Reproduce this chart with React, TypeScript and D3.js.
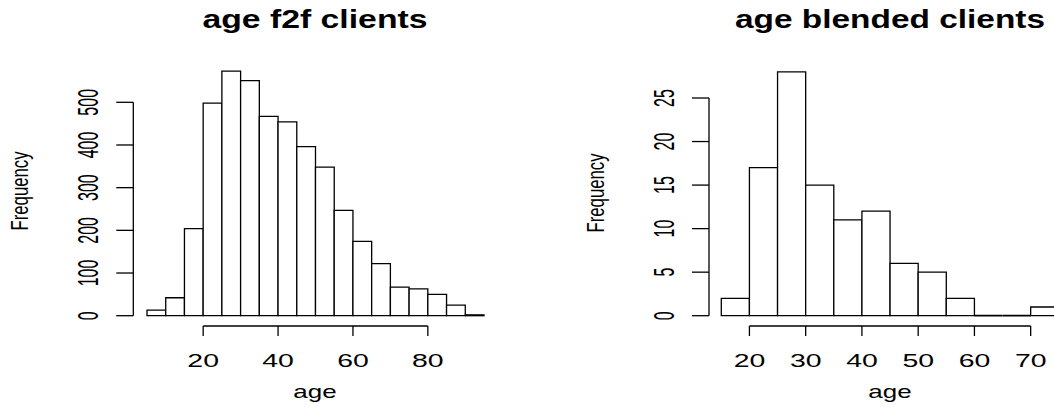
import React from "react";
import * as d3 from "d3";

// bins (5-year bins)
const f2fBreaks = [5, 10, 15, 20, 25, 30, 35, 40, 45, 50, 55, 60, 65, 70, 75, 80, 85, 90, 95];
const f2fCounts = [13, 42, 204, 498, 573, 551, 467, 454, 396, 348, 247, 174, 122, 67, 63, 50, 25, 2];
const f2fXTicks = [20, 40, 60, 80];
const f2fYTicks = [0, 100, 200, 300, 400, 500];

const blendedBreaks = [15, 20, 25, 30, 35, 40, 45, 50, 55, 60, 65, 70, 75];
const blendedCounts = [2, 17, 28, 15, 11, 12, 6, 5, 2, 0, 0, 1];
const blendedXTicks = [20, 30, 40, 50, 60, 70];
const blendedYTicks = [0, 5, 10, 15, 20, 25];

const FONT = "'Liberation Sans', Arial, Helvetica, sans-serif";

type HistProps = {
  title: string;
  titleLen: number;
  breaks: number[];
  counts: number[];
  xTicks: number[];
  yTicks: number[];
  xRange: [number, number];
  yRange: [number, number];
  axisX: number;
  axisY: number;
  centreX: number;
  ylabY: number;
};

function Histogram(p: HistProps) {
  const x = d3.scaleLinear().domain([p.breaks[0], p.breaks[p.breaks.length - 1]]).range(p.xRange);
  const y = d3.scaleLinear().domain([p.yTicks[0], p.yTicks[p.yTicks.length - 1]]).range(p.yRange);

  const bins = p.counts.map((c, i) => ({ x0: p.breaks[i], x1: p.breaks[i + 1], c }));
  const digitLen = 8.9; // rotated label length per character
  const tickDigit = 15.8; // horizontal label width per character

  // path instead of rect so empty bins still show as a flat line
  const barPath = (b: { x0: number; x1: number; c: number }) => {
    const path = d3.path();
    path.moveTo(x(b.x0), y(0));
    path.lineTo(x(b.x0), y(b.c));
    path.lineTo(x(b.x1), y(b.c));
    path.lineTo(x(b.x1), y(0));
    path.closePath();
    return path.toString();
  };

  return (
    <g fontFamily={FONT} fill="#000">
      {/* title */}
      <text x={p.centreX} y={28} textAnchor="middle" fontWeight="bold" fontSize={25}
        textLength={p.titleLen} lengthAdjust="spacingAndGlyphs">{p.title}</text>

      {/* bars */}
      {bins.map((b, i) => (
        <path key={i} d={barPath(b)} fill="#fff" stroke="#000" strokeWidth={b.c === 0 ? 1.8 : 1.3} />
      ))}

      {/* x axis */}
      <line x1={x(p.xTicks[0])} x2={x(p.xTicks[p.xTicks.length - 1])} y1={p.axisY} y2={p.axisY}
        stroke="#000" strokeWidth={1.3} />
      {p.xTicks.map((t) => (
        <g key={t}>
          <line x1={x(t)} x2={x(t)} y1={p.axisY} y2={p.axisY + 10} stroke="#000" strokeWidth={1.3} />
          <text x={x(t)} y={366.7} textAnchor="middle" fontSize={19}
            textLength={String(t).length * tickDigit} lengthAdjust="spacingAndGlyphs">{t}</text>
        </g>
      ))}
      <text x={p.centreX} y={398} textAnchor="middle" fontSize={19}
        textLength={43.3} lengthAdjust="spacingAndGlyphs">age</text>

      {/* y axis */}
      <line x1={p.axisX} x2={p.axisX} y1={y(p.yTicks[0])} y2={y(p.yTicks[p.yTicks.length - 1])}
        stroke="#000" strokeWidth={1.3} />
      {p.yTicks.map((t) => (
        <g key={t}>
          <line x1={p.axisX - 17} x2={p.axisX} y1={y(t)} y2={y(t)} stroke="#000" strokeWidth={1.3} />
          <text transform={`translate(${p.axisX - 35.5},${y(t)}) rotate(-90)`} textAnchor="middle"
            fontSize={29.5} textLength={String(t).length * digitLen} lengthAdjust="spacingAndGlyphs">{t}</text>
        </g>
      ))}
      <text transform={`translate(${p.axisX - 105},${p.ylabY}) rotate(-90)`} textAnchor="middle"
        fontSize={24} textLength={79} lengthAdjust="spacingAndGlyphs">Frequency</text>
    </g>
  );
}

export default function App() {
  return (
    <svg width={1054} height={407} style={{ position: "absolute", left: 0, top: 0, background: "#fff" }}>
      <rect width={1054} height={407} fill="#fff" />
      <Histogram title="age f2f clients" titleLen={225} breaks={f2fBreaks} counts={f2fCounts}
        xTicks={f2fXTicks} yTicks={f2fYTicks} xRange={[147, 484]} yRange={[315.7, 102.3]}
        axisX={133.3} axisY={326} centreX={315} ylabY={191} />
      <Histogram title="age blended clients" titleLen={310} breaks={blendedBreaks} counts={blendedCounts}
        xTicks={blendedXTicks} yTicks={blendedYTicks} xRange={[721.3, 1058.8]} yRange={[315.7, 98]}
        axisX={709} axisY={326} centreX={890} ylabY={193} />
    </svg>
  );
}
